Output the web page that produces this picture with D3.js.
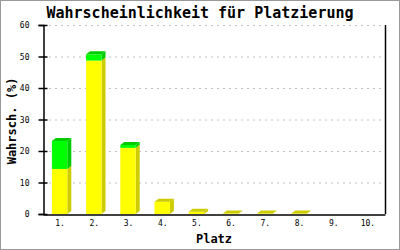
<!DOCTYPE html>
<html>
<head>
<meta charset="utf-8">
<script src="https://cdn.jsdelivr.net/npm/d3@7"></script>
<style>
  body { margin: 0; background: #fff; }
  svg { display: block; }
</style>
</head>
<body>
<svg id="chart" width="400" height="250"></svg>
<script>
// Platzierungen und Wahrscheinlichkeiten (%)
const places = ["1.", "2.", "3.", "4.", "5.", "6.", "7.", "8.", "9.", "10."];
const baseVals = [14.3, 48.7, 21.0, 3.9, 0.7, 0.15, 0.15, 0.15, 0, 0];   // gelb
const extraVals = [8.9, 2.0, 0.9, 0, 0, 0, 0, 0, 0, 0];                   // grün
const yTicks = [0, 10, 20, 30, 40, 50, 60];

const svg = d3.select("#chart");
const plotL = 43, plotR = 385, plotT = 25, plotB = 214;
const dx = 4, dy = 3;  // 3D Tiefe

const x = d3.scaleBand().domain(places).range([plotL, plotR]);
const y = d3.scaleLinear().domain([0, 60]).range([plotB, plotT]);

// Rahmen
svg.append("rect")
  .attr("x", 0.5).attr("y", 0.5)
  .attr("width", 399).attr("height", 249)
  .attr("fill", "#fff")
  .attr("stroke", "#999");

// Gitterlinien
svg.append("g")
  .selectAll("line")
  .data(yTicks.filter(d => d > 0))
  .join("line")
  .attr("x1", plotL).attr("x2", plotR)
  .attr("y1", d => y(d) + 0.5).attr("y2", d => y(d) + 0.5)
  .attr("stroke", "#c0c0c0")
  .attr("stroke-dasharray", "2,4");

// Balken
const colors = [
  { front: "#ffff00", dark: "#cccc00" },
  { front: "#00ff00", dark: "#00cc00" }
];

const bw = x.bandwidth() * 0.45;
const bars = svg.append("g");

places.forEach((p, i) => {
  const x0 = x(p) + x.bandwidth() / 2 - bw / 2 - 0.5;
  const segs = [[0, baseVals[i]], [baseVals[i], baseVals[i] + extraVals[i]]];
  const topIdx = extraVals[i] > 0 ? 1 : 0;
  segs.forEach((s, k) => {
    if (s[1] - s[0] <= 0) return;
    const c = colors[k];
    const yt = y(s[1]), yb = y(s[0]);
    // Seite
    bars.append("path")
      .attr("d", `M${x0 + bw},${yb} L${x0 + bw + dx},${yb - dy} L${x0 + bw + dx},${yt - dy} L${x0 + bw},${yt} Z`)
      .attr("fill", c.dark);
    // Front
    bars.append("rect")
      .attr("x", x0).attr("y", yt)
      .attr("width", bw).attr("height", yb - yt)
      .attr("fill", c.front);
    // Deckel
    if (k === topIdx) {
      bars.append("path")
        .attr("d", `M${x0},${yt} L${x0 + dx},${yt - dy} L${x0 + bw + dx},${yt - dy} L${x0 + bw},${yt} Z`)
        .attr("fill", c.dark);
    }
  });
});

// Y-Achse
const yAxis = svg.append("g")
  .attr("transform", `translate(${plotL + 0.5},0)`)
  .call(d3.axisLeft(y).tickValues(yTicks).tickSize(5).tickPadding(9));
yAxis.select(".domain").attr("stroke", "#000").attr("stroke-width", 1.5);
yAxis.selectAll(".tick line").attr("x1", 4).attr("x2", -5).attr("stroke", "#000").attr("stroke-width", 1.5);
yAxis.selectAll("text")
  .attr("font-family", "DejaVu Sans Mono, monospace")
  .attr("font-size", 8)
  .attr("fill", "#000");

// X-Achse
const xAxis = svg.append("g")
  .attr("transform", `translate(0,${plotB + 0.5})`)
  .call(d3.axisBottom(x).tickSize(0).tickPadding(6));
xAxis.select(".domain").attr("stroke", "#000").attr("stroke-width", 1.5);
xAxis.selectAll("text")
  .attr("font-family", "DejaVu Sans Mono, monospace")
  .attr("font-size", 8)
  .attr("fill", "#000");

// rechte Linie
svg.append("line")
  .attr("x1", plotR + 0.5).attr("x2", plotR + 0.5)
  .attr("y1", plotT).attr("y2", plotB)
  .attr("stroke", "#000").attr("stroke-width", 1.5);

// Titel
svg.append("text")
  .attr("x", 200).attr("y", 18)
  .attr("text-anchor", "middle")
  .attr("font-family", "DejaVu Sans Mono, monospace")
  .attr("font-weight", "bold")
  .attr("font-size", 15)
  .text("Wahrscheinlichkeit für Platzierung");

// Achsentitel
svg.append("text")
  .attr("x", 214).attr("y", 243)
  .attr("text-anchor", "middle")
  .attr("font-family", "DejaVu Sans Mono, monospace")
  .attr("font-weight", "bold")
  .attr("font-size", 12)
  .text("Platz");

svg.append("text")
  .attr("transform", "translate(16,121) rotate(-90)")
  .attr("text-anchor", "middle")
  .attr("font-family", "DejaVu Sans Mono, monospace")
  .attr("font-weight", "bold")
  .attr("font-size", 12)
  .text("Wahrsch. (%)");
</script>
</body>
</html>
